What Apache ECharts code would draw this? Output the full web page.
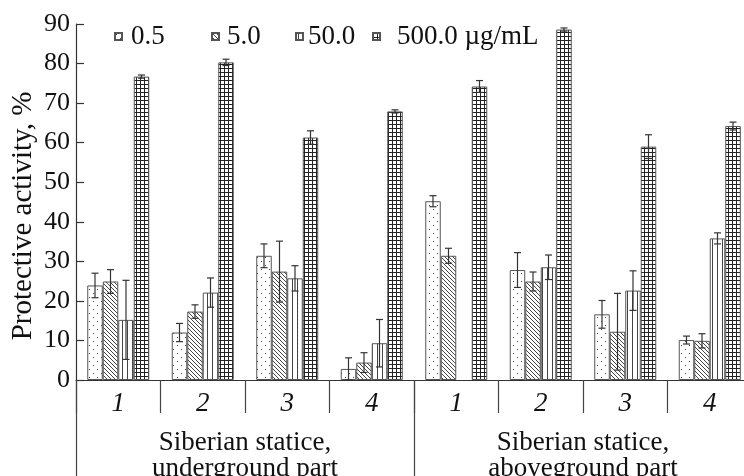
<!DOCTYPE html>
<html>
<head>
<meta charset="utf-8">
<script src="https://cdn.jsdelivr.net/npm/echarts@6/dist/echarts.min.js"></script>
<style>
  html, body { margin: 0; padding: 0; background: #fff; }
  #chart { width: 744px; height: 476px; }
</style>
</head>
<body>
<div id="chart"></div>
<script>
const categories = ['1', '2', '3', '4', '1', '2', '3', '4'];
const groups = ['Siberian statice,\nunderground part', 'Siberian statice,\naboveground part'];
const seriesNames = ['0.5', '5.0', '50.0', '500.0 µg/mL'];

const values05 = [23.9, 12.0, 31.4, 2.8, 45.2, 27.8, 16.6, 10.1];
const values5 = [24.9, 17.3, 27.4, 4.4, 31.4, 24.9, 12.2, 9.9];
const values50 = [15.2, 22.1, 25.7, 9.3, '-', 28.5, 22.6, 35.8];
const values500 = [76.7, 80.3, 61.3, 67.9, 74.2, 88.6, 59.0, 64.2];

const errs05 = [3.1, 2.3, 3.0, 2.8, 1.4, 4.4, 3.5, 1.0];
const errs5 = [3.0, 1.7, 7.7, 2.5, 1.9, 2.4, 9.7, 1.8];
const errs50 = [10.0, 3.7, 3.2, 6.0, 0, 3.1, 5.0, 1.4];
const errs500 = [0.4, 0.8, 1.7, 0.4, 1.5, 0.4, 3.0, 1.0];

const yTicks = [0, 10, 20, 30, 40, 50, 60, 70, 80, 90];

const FONT = "'Liberation Serif', 'Times New Roman', serif";
const BW = 15.5;

// small canvas tiles used as hatch fills
const makeTile = (w, h, draw) => {
  const c = document.createElement('canvas');
  c.width = w;
  c.height = h;
  const ctx = c.getContext('2d');
  ctx.fillStyle = '#fff';
  ctx.fillRect(0, 0, w, h);
  ctx.fillStyle = '#444';
  draw(ctx);
  return { image: c, repeat: 'repeat' };
};

const patterns = [
  makeTile(8, 8, (ctx) => {
    ctx.fillRect(1, 1, 1, 1);
    ctx.fillRect(5, 5, 1, 1);
  }),
  makeTile(4, 4, (ctx) => {
    for (let i = 0; i < 4; i++) ctx.fillRect(i, i, 1, 1);
  }),
  makeTile(5, 1, (ctx) => {
    ctx.fillRect(2, 0, 1, 1);
  }),
  makeTile(4, 4, (ctx) => {
    ctx.fillStyle = '#222';
    ctx.fillRect(0, 0, 4, 1);
    ctx.fillRect(0, 0, 1, 4);
  }),
];

const allValues = [values05, values5, values50, values500];
const allErrs = [errs05, errs5, errs50, errs500];

const barSeries = allValues.map((vals, i) => ({
  name: seriesNames[i],
  type: 'bar',
  data: vals,
  barWidth: BW,
  barGap: 0,
  itemStyle: { color: patterns[i], borderColor: '#555', borderWidth: 1 },
  z: 2,
}));

const errSeries = allValues.map((vals, i) => ({
  type: 'custom',
  z: 5,
  silent: true,
  data: vals
    .map((v, k) => (v === '-' ? null : [k, Math.max(0, v - allErrs[i][k]), v + allErrs[i][k]]))
    .filter((d) => d),
  renderItem: (params, api) => {
    const x = api.value(0);
    const lo = api.coord([x, api.value(1)]);
    const hi = api.coord([x, api.value(2)]);
    const cx = lo[0] + (i - 1.5) * BW;
    const style = { stroke: '#333', lineWidth: 1.2 };
    return {
      type: 'group',
      children: [
        { type: 'line', shape: { x1: cx, y1: lo[1], x2: cx, y2: hi[1] }, style },
        { type: 'line', shape: { x1: cx - 3.5, y1: lo[1], x2: cx + 3.5, y2: lo[1] }, style },
        { type: 'line', shape: { x1: cx - 3.5, y1: hi[1], x2: cx + 3.5, y2: hi[1] }, style },
      ],
    };
  },
}));

// legend items sit at uneven spacing in the original
const legendLefts = [114, 211, 295, 372];
const legendTextPad = [4, 3, 0, 12];
const legends = seriesNames.map((name, i) => ({
  data: [name],
  left: legendLefts[i],
  top: 23,
  padding: 0,
  itemWidth: 7,
  itemHeight: 7,
  itemGap: 0,
  icon: 'rect',
  textStyle: {
    fontFamily: FONT,
    fontSize: 27,
    color: '#111',
    padding: [0, 0, 0, legendTextPad[i]],
  },
}));

const chart = echarts.init(document.getElementById('chart'));
chart.setOption({
  animation: false,
  backgroundColor: '#fff',
  legend: legends,
  grid: { left: 76, top: 24, width: 676, height: 356, outerBoundsMode: 'none', containLabel: false },
  xAxis: [
    {
      type: 'category',
      data: categories,
      position: 'bottom',
      axisLine: { lineStyle: { color: '#333', width: 1.2 } },
      axisTick: { show: true, length: 33, interval: 0, lineStyle: { color: '#444', width: 1.2 } },
      axisLabel: {
        interval: 0,
        margin: 10,
        fontFamily: FONT,
        fontSize: 27,
        fontStyle: 'italic',
        color: '#111',
      },
    },
    {
      type: 'category',
      data: groups,
      position: 'bottom',
      axisLine: { show: false },
      axisTick: { show: true, length: 96, interval: 0, lineStyle: { color: '#444', width: 1.2 } },
      axisLabel: {
        interval: 0,
        margin: 50,
        fontFamily: FONT,
        fontSize: 27,
        lineHeight: 26,
        color: '#111',
      },
    },
  ],
  yAxis: {
    type: 'value',
    min: 0,
    max: 90,
    interval: 10,
    name: 'Protective activity, %',
    nameLocation: 'middle',
    nameGap: 38,
    nameMoveOverlap: false,
    nameTextStyle: { fontFamily: FONT, fontSize: 29, color: '#111', padding: [0, 28, 0, 0] },
    axisLine: { show: true, lineStyle: { color: '#333', width: 1.2 } },
    axisTick: { show: true, inside: true, length: 8, lineStyle: { color: '#333', width: 1.2 } },
    splitLine: { show: false },
    axisLabel: {
      margin: 6,
      fontFamily: FONT,
      fontSize: 26,
      color: '#111',
      formatter: (v) => (yTicks.includes(v) ? String(v) : ''),
    },
  },
  series: [...barSeries, ...errSeries],
});
</script>
</body>
</html>
